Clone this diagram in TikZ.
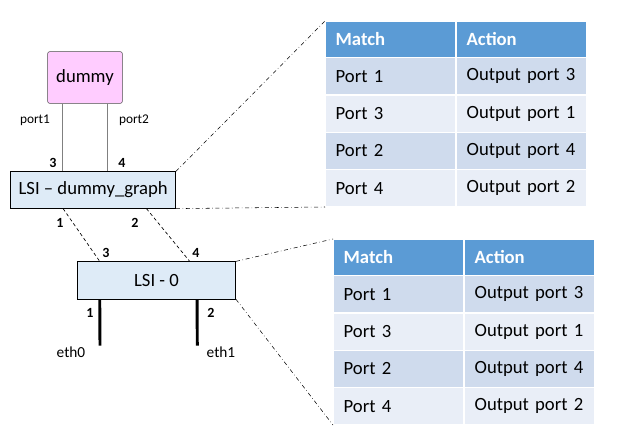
\documentclass[tikz,border=0pt]{standalone}
\usepackage{fontspec}
\setmainfont{Carlito}
\usetikzlibrary{positioning}

\definecolor{dummypink}{HTML}{FFCCFF}
\definecolor{lsiblue}{HTML}{DEEBF7}
\definecolor{headblue}{HTML}{5B9BD5}
\definecolor{rowdark}{HTML}{CFDBED}
\definecolor{rowlight}{HTML}{E9EEF7}

\tikzset{
  lsibox/.style={draw, fill=lsiblue, inner sep=0pt, font=\fontsize{14}{16}\selectfont},
  portno/.style={font=\fontsize{10.5}{12}\selectfont\bfseries},
  portname/.style={font=\fontsize{10}{12}\selectfont},
  zoomline/.style={dash dot, thin},
  cell/.style={anchor=north west, draw=white, line width=1.2pt, outer sep=0pt,
    minimum height=28pt, inner xsep=8pt, text width=82.25pt, align=left,
    font=\fontsize{14}{16}\selectfont},
  hcell/.style={cell, fill=headblue, text=white, minimum height=27.5pt,
    font=\fontsize{14}{16}\selectfont\bfseries},
  rowa/.style={cell, fill=rowdark},
  rowb/.style={cell, fill=rowlight}
}

\begin{document}
\begin{tikzpicture}[x=0.75pt,y=-0.75pt]
    \useasboundingbox (0,0) rectangle (633,443);

    % switches
    \node [draw=black!70, fill=dummypink, rounded corners=1.5pt, minimum width=56pt,
      minimum height=38.75pt, font=\fontsize{14}{16}\selectfont] (dummy) at (85,77.5) {dummy};
    \node [lsibox, minimum width=123.75pt, minimum height=27.5pt] (lsid) at (93.2,190) {LSI -- dummy\_graph};
    \node [lsibox, minimum width=118.75pt, minimum height=28pt] (lsi0) at (156.5,280.3) {LSI - 0};

    % dummy ports
    \draw [black!50, line width=0.6pt] ([xshift=11.25pt]dummy.south west) -- ([xshift=11.25pt]dummy.south west |- lsid.north);
    \draw [black!50, line width=0.6pt] ([xshift=44.75pt]dummy.south west) -- ([xshift=44.75pt]dummy.south west |- lsid.north);
    \node [portname] (p1) at (35,120) {port1};
    \node [portname] (p2) at (134,120) {port2};
    \node [portno] (n3a) at (53,163) {3};
    \node [portno] (n4a) at (122,163) {4};

    % links between the LSIs
    \draw [dash pattern=on 2.5pt off 2pt, line width=0.5pt] ([xshift=39.5pt]lsid.south west) -- ([xshift=17pt]lsi0.north west);
    \draw [dash pattern=on 2.5pt off 2pt, line width=0.5pt] ([xshift=102pt]lsid.south west) -- ([xshift=84.5pt]lsi0.north west);
    \node [portno] (n1a) at (60,223) {1};
    \node [portno] (n2a) at (135,223) {2};
    \node [portno] (n3b) at (106,253) {3};
    \node [portno] (n4b) at (196,253) {4};

    % physical ports
    \coordinate (e0) at (100,345.7);
    \coordinate (e1) at (197.3,345.7);
    \draw [line width=2.2pt] ([xshift=17pt]lsi0.south west) -- (e0);
    \draw [line width=2.2pt] ([xshift=90pt]lsi0.south west) -- (e1);
    \node [portno] (n1b) at (90,313) {1};
    \node [portno] (n2b) at (211,313) {2};
    \node [font=\fontsize{11.5}{13}\selectfont] (eth0) at (71,352) {eth0};
    \node [font=\fontsize{11.5}{13}\selectfont] (eth1) at (221,352) {eth1};

    % flow table of LSI - dummy_graph
    \node [hcell] (t1-h-m) at (325,21) {Match};
    \node [hcell, right=0pt of t1-h-m] (t1-h-a) {Action};
    \node [rowa, below=0pt of t1-h-m] (t1-1-m) {Port 1};
    \node [rowa, below=0pt of t1-h-a] (t1-1-a) {Output port 3};
    \node [rowb, below=0pt of t1-1-m] (t1-2-m) {Port 3};
    \node [rowb, below=0pt of t1-1-a] (t1-2-a) {Output port 1};
    \node [rowa, below=0pt of t1-2-m] (t1-3-m) {Port 2};
    \node [rowa, below=0pt of t1-2-a] (t1-3-a) {Output port 4};
    \node [rowb, below=0pt of t1-3-m] (t1-4-m) {Port 4};
    \node [rowb, below=0pt of t1-3-a] (t1-4-a) {Output port 2};

    % flow table of LSI - 0
    \node [hcell] (t2-h-m) at (333,239) {Match};
    \node [hcell, right=0pt of t2-h-m] (t2-h-a) {Action};
    \node [rowa, below=0pt of t2-h-m] (t2-1-m) {Port 1};
    \node [rowa, below=0pt of t2-h-a] (t2-1-a) {Output port 3};
    \node [rowb, below=0pt of t2-1-m] (t2-2-m) {Port 3};
    \node [rowb, below=0pt of t2-1-a] (t2-2-a) {Output port 1};
    \node [rowa, below=0pt of t2-2-m] (t2-3-m) {Port 2};
    \node [rowa, below=0pt of t2-2-a] (t2-3-a) {Output port 4};
    \node [rowb, below=0pt of t2-3-m] (t2-4-m) {Port 4};
    \node [rowb, below=0pt of t2-3-a] (t2-4-a) {Output port 2};

    % zoom lines
    \draw [zoomline] (lsid.north east) -- (t1-h-m.north west);
    \draw [zoomline] (lsid.south east) -- (t1-4-m.south west);
    \draw [zoomline] (lsi0.north east) -- (t2-h-m.north west);
    \draw [zoomline] (lsi0.south east) -- (t2-4-m.south west);
\end{tikzpicture}
\end{document}
